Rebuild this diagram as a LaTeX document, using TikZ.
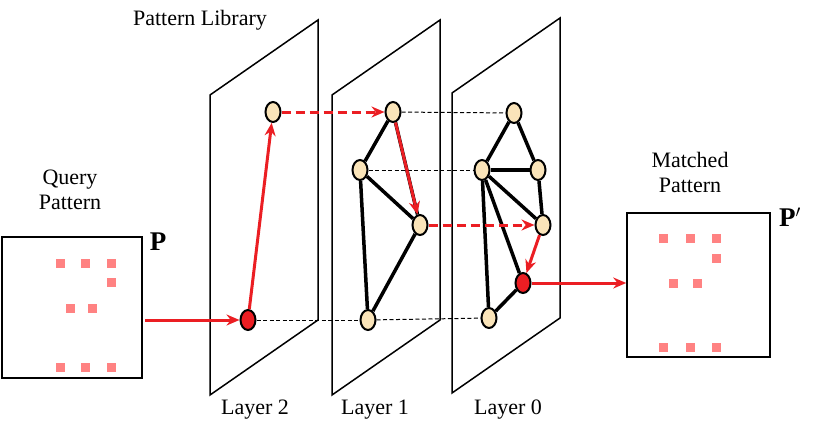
\documentclass[tikz,border=0pt]{standalone}
\usepackage{fontspec}
\setmainfont{Liberation Serif}
\usetikzlibrary{arrows.meta,shapes.geometric}
\definecolor{tan}{RGB}{250,228,185}
\definecolor{pink}{RGB}{255,130,130}
\definecolor{myred}{RGB}{235,30,35}
\begin{document}
\begin{tikzpicture}[x=1pt,y=-1pt,
		font=\fontsize{22}{25}\selectfont,
		vtx/.style={ellipse,draw,line width=2pt,fill=tan,minimum width=15pt,minimum height=20pt,inner sep=0pt},
		hit/.style={vtx,fill=myred},
		plane/.style={draw,line width=1.5pt},
		link/.style={line width=3.5pt},
		walk/.style={myred,line width=3pt,-{Stealth[length=13pt,width=11pt]}},
		jump/.style={walk,dash pattern=on 9pt off 5pt},
		cross/.style={dash pattern=on 4pt off 2.5pt,line width=1pt},
		dot/.style={fill=pink,minimum size=9pt,inner sep=0pt},
		mark label/.style={font=\fontsize{27}{30}\selectfont}]
		\useasboundingbox (0,0) rectangle (814,436);
		
		% planes
		\draw[plane] (210,95) -- (318,20) -- (318,320) -- (210,395) -- cycle;
		\draw[plane] (332,95) -- (440,20) -- (440,320) -- (332,395) -- cycle;
		\draw[plane] (452,93) -- (560,18) -- (560,318) -- (452,393) -- cycle;
		\node (lib) at (200,20) {Pattern Library};
		\node (l2) at (255,410) {Layer 2};
		\node (l1) at (375,410) {Layer 1};
		\node (l0) at (508,410) {Layer 0};
		
		% vertices
		\node[vtx] (a) at (273,112) {};
		\node[hit] (b) at (248,320) {};
		\node[vtx] (c) at (393,112) {};
		\node[vtx] (d) at (360,170) {};
		\node[vtx] (e) at (420,225) {};
		\node[vtx] (f) at (368,320) {};
		\node[vtx] (g) at (514,113) {};
		\node[vtx] (h) at (482,170) {};
		\node[vtx] (i) at (538,170) {};
		\node[vtx] (j) at (543,225) {};
		\node[hit] (k) at (523,283) {};
		\node[vtx] (l) at (489,318) {};
		
		\draw[cross] (c) -- (g);
		\draw[cross] (d) -- (h);
		\draw[cross] (b) -- (f);
		\draw[cross] (f) -- (l);
		\foreach \u/\v in {c/d,c/e,d/e,d/f,e/f,g/h,g/i,h/i,h/j,h/k,h/l,i/j,k/l}
		\draw[link] (\u) -- (\v);
		
		% query and result
		\node[draw,line width=1.5pt,minimum width=140pt,minimum height=141pt,inner sep=0pt] (qry) at (72,307.5) {};
		\node[draw,line width=1.5pt,minimum width=143pt,minimum height=144pt,inner sep=0pt] (res) at (698.5,285) {};
		\node[align=center] (qlab) at (70,190) {Query\\Pattern};
		\node[align=center] (mlab) at (690,172) {Matched\\Pattern};
		\node[mark label] (p) at (158,242) {$\mathbf{P}$};
		\node[mark label] (pp) at (790,217) {$\mathbf{P'}$};
		\foreach \x/\y in {60/263,85/263,111/263,111/282,70/308,92/308,60/367,85/367,111/367}
		\node[dot] at (\x,\y) {};
		\foreach \x/\y in {663/238,690/238,716/238,716/258,673/283,697/283,663/347,690/347,716/347}
		\node[dot] at (\x,\y) {};
		
		% search path
		\coordinate (qs) at (145,320);
		\draw[walk] (qs) -- (b);
		\draw[walk] (b) -- (a);
		\draw[jump] (a) -- (c);
		\draw[walk] (c) -- (e);
		\draw[jump] (e) -- (j);
		\draw[walk] (j) -- (k);
		\draw[walk] (k) -- (k -| res.west);
\end{tikzpicture}
\end{document}
